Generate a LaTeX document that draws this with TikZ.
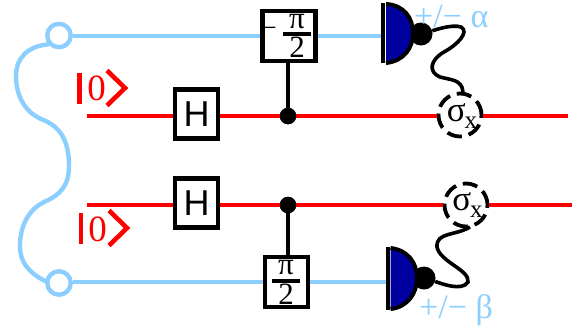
\documentclass[tikz,border=0pt]{standalone}
\usepackage{fontspec}
\setmainfont{Liberation Serif}
\newfontfamily\hfont{Liberation Sans}
\definecolor{qblue}{HTML}{8CCFFF}
\definecolor{qred}{HTML}{FF0000}
\definecolor{detblue}{HTML}{0000A0}
\tikzset{
  x=1pt,y=-1pt,
  gatebox/.style={draw=black,line width=4.4pt,fill=white,inner sep=0pt,anchor=center},
  hbox/.style={gatebox,minimum width=43pt,minimum height=49pt,font=\hfont\fontsize{36}{36}\selectfont},
  phasebox/.style={gatebox,minimum height=50pt},
  fibre/.style={draw=qblue,line width=4.4pt},
  beam/.style={draw=qred,line width=4.4pt},
  splitter/.style={circle,draw=qblue,line width=4.4pt,fill=white,minimum size=23.5pt,inner sep=0pt},
  ctrl/.style={circle,fill=black,minimum size=16.5pt,inner sep=0pt},
  link/.style={draw=black,line width=4.2pt},
  cable/.style={draw=black,line width=3.6pt},
  bulb/.style={circle,fill=black,minimum size=23pt,inner sep=0pt},
  meas/.style={circle,draw=black,line width=3.8pt,dash pattern=on 15pt off 7pt,minimum size=43pt,inner sep=0pt,fill=white},
  bluetext/.style={text=qblue,inner sep=0pt,font=\fontsize{34}{34}\selectfont},
  ketbar/.style={draw=qred,line width=4.6pt},
  ketzero/.style={text=qred,inner sep=0pt,font=\fontsize{37}{37}\selectfont},
  fracnum/.style={inner sep=0pt,font=\fontsize{31}{31}\selectfont},
  fracbar/.style={draw=black,line width=3.6pt},
  sigmatext/.style={inner sep=0pt,font=\fontsize{35}{35}\selectfont},
}
\newcommand{\sigmax}{σ\kern-1pt\raisebox{-7pt}{\fontsize{25}{25}\selectfont x}}
\begin{document}
\begin{tikzpicture}
\useasboundingbox (0,0) rectangle (584,333);
\coordinate (t0) at (87,116);
\coordinate (t9) at (568,116);
\coordinate (b0) at (87,205);
\coordinate (b9) at (572,205);
\coordinate (d1) at (384,36);
\coordinate (d2) at (388.5,282);
\node[splitter] (s1) at (59,35.5) {};
\node[splitter] (s2) at (59,283) {};
\node[ctrl] (c1) at (288,116) {};
\node[ctrl] (c2) at (288,205) {};
\node[hbox] (h1) at (196.5,114) {H};
\node[hbox] (h2) at (196.5,203) {H};
\node[phasebox,minimum width=53pt] (p1) at (289,36) {};
\node[phasebox,minimum width=43pt] (p2) at (286.5,282) {};
\node[meas] (m1) at (460,115) {};
\node[meas] (m2) at (466,205) {};
\node[bulb] (b1) at (421,34) {};
\node[bulb] (b2) at (424,278) {};
% fraction labels
\node[fracnum] (pi1) at (297,22) {π};
\node[fracnum] (two1) at (297,47) {2};
\node[fracnum,font=\fontsize{26}{26}\selectfont] (minus1) at (269.5,32) {−};
\draw[fracbar] (283,34) -- (311,34);
\node[fracnum] (pi2) at (286,268) {π};
\node[fracnum] (two2) at (286,294) {2};
\draw[fracbar] (272,281) -- (300,281);
% beams
\draw[beam] (t0) -- (h1.west |- t0);
\draw[beam] (h1.east |- t0) -- (c1);
\draw[beam] (c1) -- (m1.west |- t0);
\draw[beam] (m1.east |- t0) -- (t9);
\draw[beam] (b0) -- (h2.west |- b0);
\draw[beam] (h2.east |- b0) -- (c2);
\draw[beam] (c2) -- (m2.west |- b0);
\draw[beam] (m2.east |- b0) -- (b9);
\node[ctrl] at (c1) {};
\node[ctrl] at (c2) {};
\draw[link] (c1) -- (c1 |- p1.south);
\draw[link] (c2) -- (c2 |- p2.north);
\draw[fibre] (s1.east |- d1) -- (p1.west |- d1);
\draw[fibre] (p1.east |- d1) -- (d1);
\draw[fibre] (s2.east |- d2) -- (p2.west |- d2);
\draw[fibre] (p2.east |- d2) -- (d2);
\draw[fibre,line cap=round] (s1.south west) ++(-1,-1)
  .. controls (28,46) and (16,58) .. (16,76)
  .. controls (16,98) and (27,113) .. (41,119)
  .. controls (60,126) and (69,140) .. (69,166)
  .. controls (69,186) and (60,195) .. (44,202)
  .. controls (30,209) and (20,224) .. (20,246)
  .. controls (20,262) and (28,272) .. (45,281);
% detector bodies
\fill[detblue] (386,4) .. controls (404,5) and (413,18) .. (413,33) .. controls (413,48) and (404,61) .. (386,62) -- cycle;
\draw[line width=4pt] (386,4) .. controls (404,5) and (413,18) .. (413,33) .. controls (413,48) and (404,61) .. (386,63);
\draw[line width=4.6pt] (383,3) -- (383,63);
\fill[detblue] (390.5,249) .. controls (408,250) and (417,263) .. (417,278) .. controls (417,293) and (408,307) .. (390.5,308) -- cycle;
\draw[line width=4pt] (390.5,248) .. controls (408,250) and (417,263) .. (417,278) .. controls (417,293) and (408,307) .. (390.5,309);
\draw[line width=4.6pt] (388,247) -- (388,310);
% cables
\draw[cable] (b1) .. controls (435,30) and (452,24) .. (461,27)
  .. controls (470,32) and (457,45) .. (444,52)
  .. controls (430,60) and (428,72) .. (440,77)
  .. controls (450,80) and (462,79) .. (463,92);
\draw[cable] (b2) .. controls (440,283) and (462,292) .. (468,282)
  .. controls (470,270) and (440,262) .. (437,247)
  .. controls (436,232) and (455,236) .. (470,227);
% labels
\node[sigmatext] (sx1) at (462,116) {\sigmax};
\node[sigmatext] (sx2) at (467.5,205) {\sigmax};
\node[bluetext,anchor=west] (la) at (414,16) {+/− α};
\node[bluetext,anchor=west] (lb) at (419,310) {+/− β};
% kets
\draw[ketbar] (79.5,73) -- (79.5,104);
\node[ketzero] (k1) at (96.5,88) {0};
\draw[ketbar,miter limit=10] (107,70.5) -- (125,88) -- (107,105.5);
\draw[ketbar] (81,213) -- (81,244);
\node[ketzero] (k2) at (97.5,229) {0};
\draw[ketbar,miter limit=10] (109,210.5) -- (127,228) -- (109,245.5);
\end{tikzpicture}
\end{document}
